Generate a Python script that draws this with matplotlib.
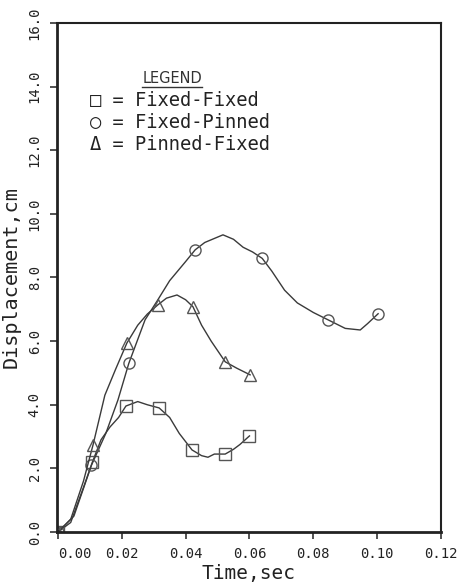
import matplotlib
matplotlib.use("Agg")
import matplotlib.pyplot as plt
import matplotlib.transforms as mtransforms

# curves (time in s, displacement in cm)
t_ff = [0.0, 0.004, 0.008, 0.0108, 0.0135, 0.0163, 0.019, 0.0213, 0.025, 0.028, 0.0317,
        0.035, 0.038, 0.042, 0.045, 0.047, 0.049, 0.0524, 0.055, 0.057, 0.060]
d_ff = [0.0, 0.3, 1.4, 2.2, 2.9, 3.3, 3.6, 3.96, 4.1, 4.0, 3.9,
        3.6, 3.1, 2.58, 2.4, 2.35, 2.45, 2.45, 2.6, 2.75, 3.02]
mk_ff = [0, 3, 7, 10, 13, 17, 20]

t_fp = [0.0, 0.005, 0.0105, 0.015, 0.0188, 0.0222, 0.0273, 0.031, 0.035, 0.040, 0.043,
        0.046, 0.0517, 0.055, 0.058, 0.061, 0.064, 0.067, 0.071, 0.075, 0.080,
        0.0846, 0.090, 0.0947, 0.097, 0.1003]
d_fp = [0.0, 0.5, 2.1, 3.1, 4.15, 5.3, 6.67, 7.25, 7.9, 8.5, 8.87,
        9.1, 9.34, 9.2, 8.95, 8.8, 8.6, 8.2, 7.6, 7.2, 6.9,
        6.67, 6.4, 6.35, 6.55, 6.86]
mk_fp = [0, 2, 5, 10, 16, 21, 25]

t_pf = [0.0, 0.004, 0.008, 0.011, 0.0147, 0.018, 0.0216, 0.025, 0.028, 0.0313, 0.034,
        0.0373, 0.040, 0.0423, 0.045, 0.048, 0.0524, 0.056, 0.0602]
d_pf = [0.0, 0.4, 1.6, 2.74, 4.3, 5.1, 5.94, 6.5, 6.85, 7.14, 7.35,
        7.45, 7.3, 7.08, 6.5, 6.0, 5.35, 5.15, 4.94]
mk_pf = [0, 3, 6, 9, 13, 16, 18]

x_ticks = [0.0, 0.02, 0.04, 0.06, 0.08, 0.10, 0.12]
y_ticks = [0.0, 2.0, 4.0, 6.0, 8.0, 10.0, 12.0, 14.0, 16.0]

plt.rcParams['font.family'] = ['DejaVu Sans Mono', 'DejaVu Sans']

line_color = "#3a3a3a"
fig = plt.figure(figsize=(4.61, 5.88), dpi=100)
ax = fig.add_axes([0.1236, 0.0952, 0.833, 0.8658])

style = dict(color=line_color, lw=1.0, markersize=8, markerfacecolor="none",
             markeredgecolor="#555555", markeredgewidth=1.0)
ax.plot(t_ff, d_ff, marker="s", markevery=mk_ff, **style)
ax.plot(t_fp, d_fp, marker="o", markevery=mk_fp, **style)
ax.plot(t_pf, d_pf, marker="^", markevery=mk_pf, **style)

ax.set_xlim(-0.0003, 0.12)
ax.set_ylim(0, 16)
ax.set_xticks(x_ticks)
ax.set_xticklabels([f"{v:.2f}" for v in x_ticks], fontsize=10)
ax.set_yticks(y_ticks)
ax.set_yticklabels([f"{v:.1f}" for v in y_ticks], fontsize=10, rotation=90, va="center")
ax.tick_params(direction="out", length=5, width=1.2, color="#333333", labelcolor="#222222")
ax.tick_params(axis="y", pad=6)
ax.tick_params(axis="x", pad=6)

# the 0.00 label sits to the right of its tick
lbl0 = ax.get_xticklabels()[0]
lbl0.set_transform(lbl0.get_transform() + mtransforms.ScaledTranslation(0.17, 0, fig.dpi_scale_trans))

for side in ["left", "bottom"]:
    ax.spines[side].set_linewidth(2.0)
for side in ["top", "right"]:
    ax.spines[side].set_linewidth(1.5)
for sp in ax.spines.values():
    sp.set_color("#222222")

ax.set_xlabel("Time,sec", fontsize=14, color="#222222", labelpad=2)
ax.set_ylabel("Displacement,cm", fontsize=14.5, color="#222222", labelpad=5)

# hand drawn legend
ax.text(0.222, 0.891, "LEGEND", transform=ax.transAxes, fontsize=10.5, color="#333333",
        ha="left", va="center", family="DejaVu Sans")
ax.plot([0.222, 0.378], [0.874, 0.874], transform=ax.transAxes, color="#333333", lw=1.0)
legend_rows = ["\u25a1 = Fixed-Fixed", "\u25cb = Fixed-Pinned", "\u0394 = Pinned-Fixed"]
for i, row in enumerate(legend_rows):
    ax.text(0.085, 0.848 - i * 0.043, row, transform=ax.transAxes, fontsize=13.5,
            color="#222222", ha="left", va="center")

fig.savefig("out.png", dpi=100)
